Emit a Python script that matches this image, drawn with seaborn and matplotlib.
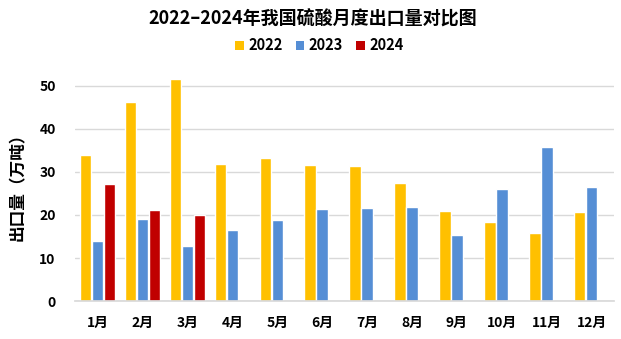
import matplotlib
matplotlib.use("Agg")
import matplotlib.pyplot as plt
import seaborn as sns
import pandas as pd
import numpy as np
from matplotlib.patches import Patch

months = ["1月", "2月", "3月", "4月", "5月", "6月", "7月", "8月", "9月", "10月", "11月", "12月"]
years = ["2022", "2023", "2024"]
v2022 = [34.0, 46.3, 51.6, 31.9, 33.3, 31.6, 31.4, 27.4, 20.9, 18.4, 15.8, 20.7]
v2023 = [14.0, 19.1, 12.8, 16.5, 18.8, 21.4, 21.6, 21.9, 15.3, 26.0, 35.8, 26.5]
v2024 = [27.2, 21.2, 20.0, np.nan, np.nan, np.nan, np.nan, np.nan, np.nan, np.nan, np.nan, np.nan]
colors = ["#FFC000", "#558ED5", "#C00000"]

rows = []
for y, vals in zip(years, [v2022, v2023, v2024]):
    for m, v in zip(months, vals):
        rows.append({"month": m, "year": y, "value": v})
df = pd.DataFrame(rows)

sns.set_theme(style="white")
plt.rcParams["font.family"] = ["Noto Sans CJK SC", "DejaVu Sans"]
plt.rcParams["text.color"] = "#000000"
plt.rcParams["axes.labelcolor"] = "#000000"

fig = plt.figure(figsize=(6.21, 3.39), dpi=100)
ax = fig.add_axes([0.121, 0.112, 0.868, 0.698])

sns.barplot(data=df, x="month", y="value", hue="year", order=months, hue_order=years,
            palette=colors, width=0.8, gap=0.04, saturation=1, ax=ax, legend=False,
            errorbar=None)

ax.set_ylim(0, 55)
ax.set_xlim(-0.5, 11.5)
ax.set_yticks([0, 10, 20, 30, 40, 50])
ax.yaxis.grid(True, color="#D9D9D9", linewidth=1)
ax.set_axisbelow(True)
for s in ["top", "right", "left"]:
    ax.spines[s].set_visible(False)
ax.spines["bottom"].set_color("#D9D9D9")
ax.tick_params(axis="both", length=0)
ax.tick_params(axis="y", pad=14)
ax.tick_params(axis="x", pad=11)
for lbl in ax.get_xticklabels() + ax.get_yticklabels():
    lbl.set_fontweight("bold")
    lbl.set_fontsize(10)
    lbl.set_color("#000000")
ax.set_xlabel("")
ax.set_ylabel("出口量（万吨）", fontsize=12, fontweight="bold", labelpad=9, color="#000000")

fig.text(0.503, 0.943, "2022–2024年我国硫酸月度出口量对比图", ha="center", va="center",
         fontsize=13, fontweight="bold", color="#000000")

handles = [Patch(facecolor=c, edgecolor="none", label=y) for c, y in zip(colors, years)]
leg = fig.legend(handles=handles, loc="center", bbox_to_anchor=(0.514, 0.866), ncol=3,
                 frameon=False, handlelength=0.6, handleheight=0.6, handletextpad=0.3,
                 columnspacing=0.9, prop={"weight": "bold", "size": 10.5})
for t in leg.get_texts():
    t.set_color("#000000")

fig.savefig("out.png", dpi=100)
